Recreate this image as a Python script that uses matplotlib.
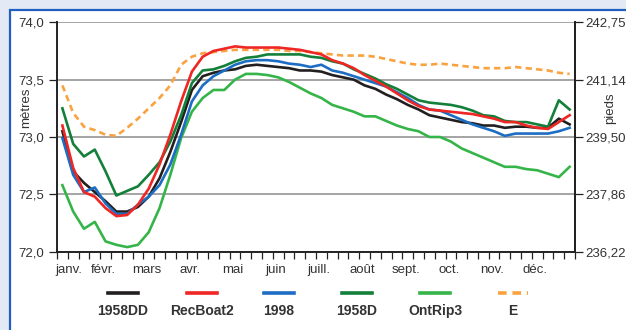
import numpy as np
import matplotlib
matplotlib.use("Agg")
import matplotlib.pyplot as plt
from matplotlib.patches import Rectangle

# quarter-month levels (m), 48 values per scenario
s_1958DD = [73.05, 72.70, 72.60, 72.52, 72.44, 72.35, 72.35, 72.39, 72.48, 72.64, 72.87, 73.13, 73.41, 73.53,
            73.56, 73.58, 73.59, 73.62, 73.63, 73.62, 73.61, 73.60, 73.58, 73.58, 73.57, 73.54, 73.52,
            73.50, 73.45, 73.42, 73.37, 73.33, 73.28, 73.24, 73.19, 73.17, 73.15, 73.13, 73.12, 73.10,
            73.10, 73.08, 73.09, 73.09, 73.08, 73.08, 73.16, 73.11]
s_RecBoat2 = [73.10, 72.73, 72.52, 72.48, 72.38, 72.31, 72.32, 72.41, 72.55, 72.76, 73.02, 73.31, 73.57, 73.70,
              73.75, 73.77, 73.79, 73.78, 73.78, 73.78, 73.78, 73.77, 73.76, 73.74, 73.72, 73.67, 73.64,
              73.60, 73.54, 73.49, 73.44, 73.38, 73.32, 73.27, 73.24, 73.23, 73.22, 73.21, 73.20, 73.18,
              73.16, 73.13, 73.13, 73.10, 73.08, 73.07, 73.13, 73.19]
s_1998 = [72.99, 72.67, 72.52, 72.56, 72.42, 72.33, 72.33, 72.41, 72.48, 72.58, 72.76, 73.02, 73.31, 73.45,
          73.53, 73.58, 73.63, 73.66, 73.67, 73.67, 73.66, 73.64, 73.63, 73.61, 73.63, 73.58, 73.56,
          73.53, 73.50, 73.47, 73.44, 73.39, 73.34, 73.28, 73.24, 73.23, 73.19, 73.15, 73.11, 73.08,
          73.05, 73.01, 73.03, 73.03, 73.03, 73.03, 73.05, 73.08]
s_1958D = [73.25, 72.94, 72.83, 72.89, 72.70, 72.49, 72.53, 72.57, 72.67, 72.78, 72.96, 73.19, 73.47, 73.58,
           73.59, 73.62, 73.66, 73.69, 73.70, 73.72, 73.72, 73.72, 73.72, 73.70, 73.69, 73.66, 73.64,
           73.59, 73.55, 73.51, 73.46, 73.42, 73.37, 73.32, 73.30, 73.29, 73.28, 73.26, 73.23, 73.19,
           73.18, 73.14, 73.13, 73.13, 73.11, 73.09, 73.32, 73.24]
s_OntRip3 = [72.58, 72.35, 72.20, 72.26, 72.09, 72.06, 72.04, 72.06, 72.17, 72.38, 72.67, 72.99, 73.22, 73.34,
             73.41, 73.41, 73.50, 73.55, 73.55, 73.54, 73.52, 73.48, 73.43, 73.38, 73.34, 73.28, 73.25,
             73.22, 73.18, 73.18, 73.14, 73.10, 73.07, 73.05, 73.00, 73.00, 72.96, 72.90, 72.86, 72.82,
             72.78, 72.74, 72.74, 72.72, 72.71, 72.68, 72.65, 72.74]
s_E = [73.45, 73.21, 73.09, 73.06, 73.02, 73.01, 73.08, 73.16, 73.25, 73.34, 73.45, 73.63, 73.70, 73.73,
       73.74, 73.75, 73.76, 73.76, 73.76, 73.76, 73.76, 73.75, 73.75, 73.74, 73.73, 73.72, 73.71,
       73.71, 73.71, 73.70, 73.68, 73.66, 73.64, 73.63, 73.63, 73.64, 73.63, 73.62, 73.61, 73.60,
       73.60, 73.60, 73.61, 73.60, 73.59, 73.58, 73.56, 73.55]

months = ['janv.', 'févr.', 'mars', 'avr.', 'mai', 'juin', 'juill.', 'août', 'sept.', 'oct.', 'nov.', 'déc.']
yticks_m = [72.0, 72.5, 73.0, 73.5, 74.0]
yticks_ft = ['236,22', '237,86', '239,50', '241,14', '242,75']

series = [
    ('1958DD', s_1958DD, '#231f20', '-'),
    ('RecBoat2', s_RecBoat2, '#ee2624', '-'),
    ('1998', s_1998, '#1c6dc3', '-'),
    ('1958D', s_1958D, '#13803a', '-'),
    ('OntRip3', s_OntRip3, '#35b549', '-'),
    ('E', s_E, '#f9a23f', (0, (2.4, 1.6))),
]

txt = '#333333'
fs = 9.5
plt.rcParams['font.family'] = ['Liberation Sans', 'DejaVu Sans']

fig = plt.figure(figsize=(6.26, 3.30), dpi=100)
fig.patch.set_facecolor('#e3eaf6')
# white panel with blue frame
fig.patches.append(Rectangle((10 / 626, -0.05), 1.0, 1 - 10 / 330 + 0.05, transform=fig.transFigure,
                             facecolor='white', edgecolor='#1f5fbf', linewidth=1.6, zorder=-10))

ax = fig.add_axes([57 / 626, 1 - 251.7 / 330, (575 - 57) / 626, (251.7 - 22.3) / 330])
ax.set_facecolor('none')
x = np.arange(48) + 0.5

order = [5, 4, 0, 2, 3, 1]
for k in order:
    name, vals, col, ls = series[k]
    ax.plot(x, vals, color=col, linestyle=ls, linewidth=1.9, zorder=3)

ax.set_xlim(0, 48)
ax.set_ylim(72.0, 74.0)
ax.set_yticks(yticks_m)
ax.set_yticklabels([('%.1f' % v).replace('.', ',') for v in yticks_m], fontsize=fs, color=txt)
ax.grid(axis='y', color='#8c8c8c', linewidth=1.1)
ax.set_axisbelow(True)

ax.set_xticks(np.arange(49))
ax.set_xticklabels([])
ax.set_xticks([1.05] + [4 * i + 0.3 for i in range(1, 12)], minor=True)
ax.set_xticklabels(months, minor=True, fontsize=fs, color=txt)
ax.tick_params(axis='x', which='major', direction='out', length=5, width=0.9, color='#222')
ax.tick_params(axis='x', which='minor', length=0, pad=9)
ax.tick_params(axis='y', direction='out', length=6, width=0.9, color='#222', pad=3)

for s in ['top']:
    ax.spines[s].set_visible(False)
for s in ['left', 'right', 'bottom']:
    ax.spines[s].set_color('#222')
    ax.spines[s].set_linewidth(1.4)

ax2 = ax.twinx()
ax2.set_ylim(72.0, 74.0)
ax2.set_yticks(yticks_m)
ax2.set_yticklabels(yticks_ft, fontsize=fs, color=txt)
ax2.tick_params(axis='y', direction='out', length=6, width=0.9, color='#222', pad=1.5)
for s in ['top', 'left', 'bottom']:
    ax2.spines[s].set_visible(False)
ax2.spines['right'].set_color('#222')
ax2.spines['right'].set_linewidth(1.4)

# axis titles sit between the tick labels, as in the original
fig.text(26 / 626, 1 - 108 / 330, 'mètres', rotation=90, ha='center', va='center', fontsize=fs, color=txt)
fig.text(610 / 626, 1 - 108 / 330, 'pieds', rotation=90, ha='center', va='center', fontsize=fs, color=txt)

# legend: sample line above bold label
lax = fig.add_axes([0, 0, 1, 1], facecolor='none')
lax.set_xlim(0, 626)
lax.set_ylim(330, 0)
lax.axis('off')
leg_x = [123, 202, 279, 357, 435, 513]
for (name, vals, col, ls), cx in zip(series, leg_x):
    lax.plot([cx - 15, cx + 15], [293, 293], color=col, linestyle=ls, linewidth=2.6)
    lax.text(cx, 311, name, ha='center', va='center', fontsize=10, fontweight='bold', color=txt)

fig.savefig('out.png', dpi=100, facecolor=fig.get_facecolor())
